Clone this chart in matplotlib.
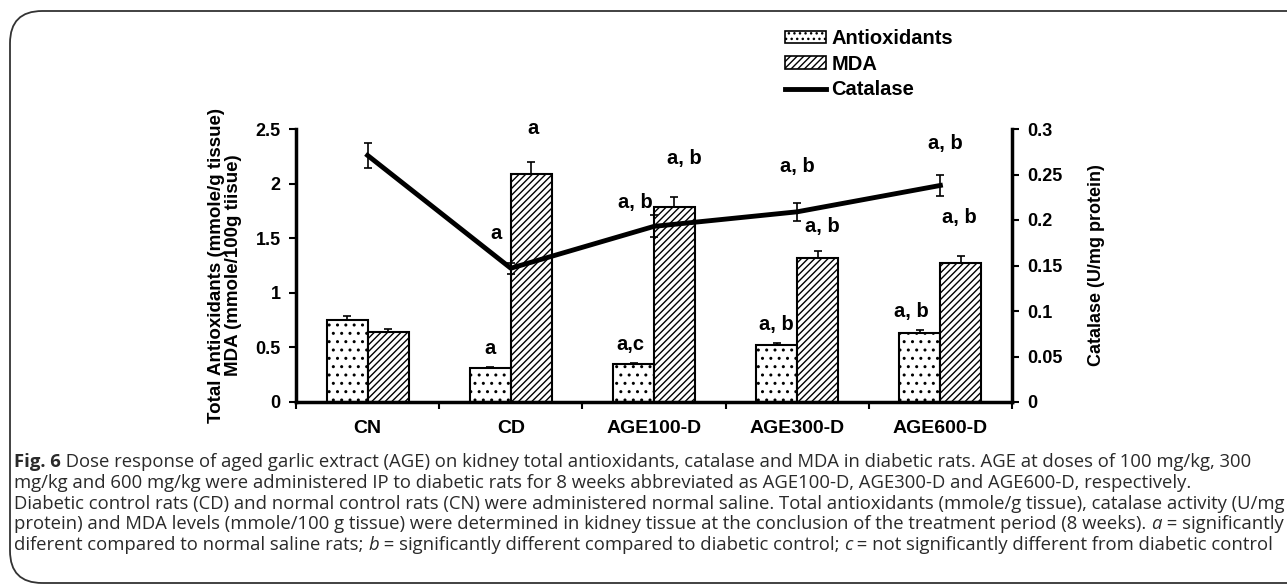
import numpy as np
import matplotlib
matplotlib.use("Agg")
import matplotlib.pyplot as plt
from matplotlib.patches import FancyBboxPatch, Patch
from matplotlib.lines import Line2D

# Data
groups = ['CN', 'CD', 'AGE100-D', 'AGE300-D', 'AGE600-D']
antiox = [0.75, 0.31, 0.345, 0.52, 0.63]
antiox_err = [0.035, 0.012, 0.012, 0.022, 0.03]
mda = [0.64, 2.085, 1.79, 1.32, 1.275]
mda_err = [0.03, 0.11, 0.09, 0.065, 0.065]
catalase = [0.271, 0.147, 0.193, 0.209, 0.238]
catalase_err = [0.014, 0.006, 0.012, 0.010, 0.012]

# significance letters: (label, group index)
sig_antiox = [('a', 1), ('a,c', 2), ('a, b', 3), ('a, b', 4)]
sig_mda = [('a', 1), ('a, b', 2), ('a, b', 3), ('a, b', 4)]
sig_catalase = [('a', 1), ('a, b', 2), ('a, b', 3), ('a, b', 4)]

caption_lines = [
    [("Fig. 6", "bold"), (" Dose response of aged garlic extract (AGE) on kidney total antioxidants, catalase and MDA in diabetic rats. AGE at doses of 100 mg/kg, 300", "normal")],
    [("mg/kg and 600 mg/kg were administered IP to diabetic rats for 8 weeks abbreviated as AGE100-D, AGE300-D and AGE600-D, respectively.", "normal")],
    [("Diabetic control rats (CD) and normal control rats (CN) were administered normal saline. Total antioxidants (mmole/g tissue), catalase activity (U/mg", "normal")],
    [("protein) and MDA levels (mmole/100 g tissue) were determined in kidney tissue at the conclusion of the treatment period (8 weeks). ", "normal"),
     ("a", "italic"), (" = significantly", "normal")],
    [("diferent compared to normal saline rats; ", "normal"), ("b", "italic"),
     (" = significantly different compared to diabetic control; ", "normal"), ("c", "italic"),
     (" = not significantly different from diabetic control", "normal")],
]

W, H = 1287, 586
plt.rcParams['font.family'] = ['Liberation Sans', 'DejaVu Sans']
plt.rcParams['font.weight'] = 'bold'
plt.rcParams['hatch.linewidth'] = 1.0

fig = plt.figure(figsize=(W / 100, H / 100), dpi=100)

# rounded frame, running off the right edge
frame = FancyBboxPatch((10 / W, 1 - 583 / H), 1.2, (583 - 11) / H,
                       boxstyle="round,pad=0,rounding_size=0.025",
                       transform=fig.transFigure, fill=False, lw=1.3,
                       edgecolor='#333333', mutation_aspect=W / H)
fig.patches.append(frame)

ax = fig.add_axes([296 / W, 1 - 402 / H, (1012 - 296) / W, (402 - 129) / H])
ax.patch.set_alpha(0)
x = np.arange(len(groups))
w = 0.286

ax.bar(x - w / 2, antiox, w, color='white', edgecolor='black', lw=1.5,
       hatch='..', label='Antioxidants', zorder=2)
ax.bar(x + w / 2, mda, w, color='white', edgecolor='black', lw=1.5,
       hatch='/////', label='MDA', zorder=2)
ax.errorbar(x - w / 2, antiox, yerr=[np.zeros(len(x)), antiox_err], fmt='none',
            ecolor='black', elinewidth=1.2, capsize=3, capthick=1.2, zorder=3)
ax.errorbar(x + w / 2, mda, yerr=[np.zeros(len(x)), mda_err], fmt='none',
            ecolor='black', elinewidth=1.2, capsize=3, capthick=1.2, zorder=3)

ax.set_xlim(-0.5, len(groups) - 0.5)
ax.set_ylim(0, 2.5)
ax.set_yticks(np.arange(0, 2.51, 0.5))
ax.set_yticklabels(['0', '0.5', '1', '1.5', '2', '2.5'])
ax.set_xticks(x)
ax.set_xticklabels(groups, fontsize=14)
ax.set_xticks(np.arange(-0.5, len(groups)), minor=True)
ax.tick_params(axis='x', which='major', length=0, pad=13)
ax.tick_params(axis='x', which='minor', length=5, width=1.5, direction='out')
ax.tick_params(axis='y', length=5, width=1.5, labelsize=13, pad=6)
for s in ['top', 'right']:
    ax.spines[s].set_visible(False)
for s in ['left', 'bottom']:
    ax.spines[s].set_linewidth(2.5)
ax.set_ylabel('Total Antioxidants (mmole/g tissue)\nMDA (mmole/100g tiisue)',
              fontsize=13.5, fontweight='bold', labelpad=10, linespacing=1.0)

ax2 = ax.twinx()
ax2.errorbar(x, catalase, yerr=catalase_err, color='black', lw=3.5,
             elinewidth=1.2, capsize=3, capthick=1.2, zorder=4)
ax2.set_ylim(0, 0.3)
ax2.set_yticks(np.arange(0, 0.301, 0.05))
ax2.set_yticklabels(['0', '0.05', '0.1', '0.15', '0.2', '0.25', '0.3'])
ax2.tick_params(axis='y', length=5, width=1.5, labelsize=13, pad=6)
for s in ['top', 'left', 'bottom']:
    ax2.spines[s].set_visible(False)
ax2.spines['right'].set_linewidth(2.5)
ax2.set_ylabel('Catalase (U/mg protein)', fontsize=13, fontweight='bold', labelpad=18)

# significance letters (left-axis data units)
lab_kw = dict(fontsize=14.5, ha='center', va='center', zorder=5)
antiox_dx = [0.0, -0.002, -0.02, -0.005, -0.057]
for lab, i in sig_antiox:
    ax.text(i - w / 2 + antiox_dx[i], antiox[i] + antiox_err[i] + 0.17, lab, **lab_kw)
mda_pos = {1: (1.155, 2.5), 2: (1.867, 1.825), 3: (3.177, 1.605), 4: (4.13, 1.69)}
cat_pos = {1: (0.895, 1.54), 2: (2.21, 2.23), 3: (3.003, 2.155), 4: (4.035, 2.37)}
for lab, i in sig_mda:
    ax.text(*mda_pos[i], lab, **lab_kw)
for lab, i in sig_catalase:
    ax.text(*cat_pos[i], lab, **lab_kw)

handles = [Patch(facecolor='white', edgecolor='black', hatch='...', lw=1.2),
           Patch(facecolor='white', edgecolor='black', hatch='/////', lw=1.2),
           Line2D([0], [0], color='black', lw=3.5)]
fig.legend(handles, ['Antioxidants', 'MDA', 'Catalase'], loc='upper left',
           bbox_to_anchor=(785 / W, 1 - 29 / H), frameon=False, fontsize=14.5,
           handlelength=2.05, handleheight=0.55, handletextpad=0.25,
           labelspacing=0.33, borderaxespad=0, borderpad=0)

# caption, laid out piece by piece; one font size chosen so no line runs
# past the right edge of the text block
renderer = fig.canvas.get_renderer()
x_left, x_right = 14, 1276
y0, dy = 462, 20.8


def caption_style(style):
    return dict(family='Open Sans',
                weight='bold' if style == 'bold' else 'normal',
                style='italic' if style == 'italic' else 'normal')


def line_width(parts, size):
    total = 0
    for s, style in parts:
        t = fig.text(0, 0, s, fontsize=size, **caption_style(style))
        total += t.get_window_extent(renderer).width
        t.remove()
    return total


base = 13.0
cap_size = base * min((x_right - x_left) / line_width(p, base) for p in caption_lines)

for k, parts in enumerate(caption_lines):
    xp = x_left
    yp = 1 - (y0 + k * dy) / H
    for s, style in parts:
        t = fig.text(xp / W, yp, s, fontsize=cap_size, va='center', ha='left',
                     color='#2a2a2a', **caption_style(style))
        xp += t.get_window_extent(renderer).width

fig.savefig('out.png', dpi=100)
